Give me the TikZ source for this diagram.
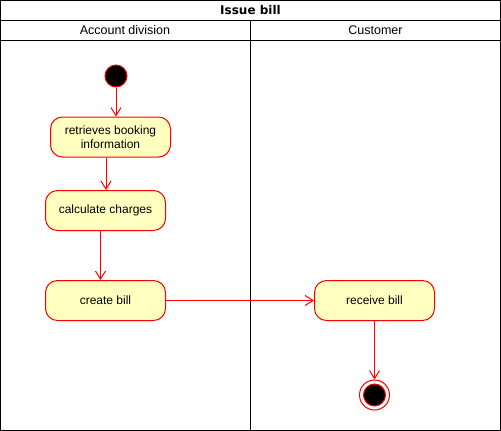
\documentclass[tikz,border=0pt]{standalone}
\usepackage{fontspec}
\setmainfont{Liberation Sans}
\newfontfamily\titlefont{DejaVu Sans}
\usetikzlibrary{arrows.meta}
\definecolor{actfill}{HTML}{FFFFC0}

\begin{document}
\begin{tikzpicture}[x=1pt, y=-1pt, line width=1pt,
		action/.style={draw=red, fill=actfill, rounded corners=12pt, minimum width=120pt, minimum height=40pt, inner sep=2pt, align=center, font=\fontsize{12}{14}\selectfont},
		lane/.style={font=\fontsize{12.5}{14}\selectfont},
		flow/.style={draw=red, -{Straight Barb[length=8pt,width=10pt,line width=1pt]}}]
				\useasboundingbox (0,0) rectangle (501,431);
				% swimlane frame
				\draw (0.5,0.5) rectangle (500.5,430.5);
				\foreach \y in {20.5,40.5} {
					\draw (0.5,\y) -- (500.5,\y);
				}
				\draw (250.5,20.5) -- (250.5,430.5);
				\node[font=\titlefont\fontsize{12}{14}\selectfont\bfseries] (title) at (250.5,10.5) {Issue bill};
				\node[lane] (account) at (125,30.5) {Account division};
				\node[lane] (customer) at (375.5,30.5) {Customer};
				% activities
				\node[circle, draw=red, fill=black, minimum size=22pt, inner sep=0pt] (start) at (116,76) {};
				\node[action] (retrieve) at (110.5,137) {retrieves booking\\information};
				\node[action] (calc) at (105.5,210.5) {calculate charges};
				\node[action] (create) at (105.5,300.5) {create bill};
				\node[action] (receive) at (374.5,300.5) {receive bill};
				\node[circle, draw=red, fill=white, minimum size=30pt, inner sep=0pt] (stop) at (374.5,395) {};
				\fill[black, draw=red] (stop.center) circle (11pt);
				% flows
				\draw[flow] (start) -- (start |- retrieve.north);
				\draw[flow] (retrieve.south -| 106,0) -- (calc.north -| 106,0);
				\draw[flow] (calc.south -| 100.5,0) -- (create.north -| 100.5,0);
				\draw[flow] (create) -- (receive);
				\draw[flow] (receive) -- (stop);
			\end{tikzpicture}
\end{document}
